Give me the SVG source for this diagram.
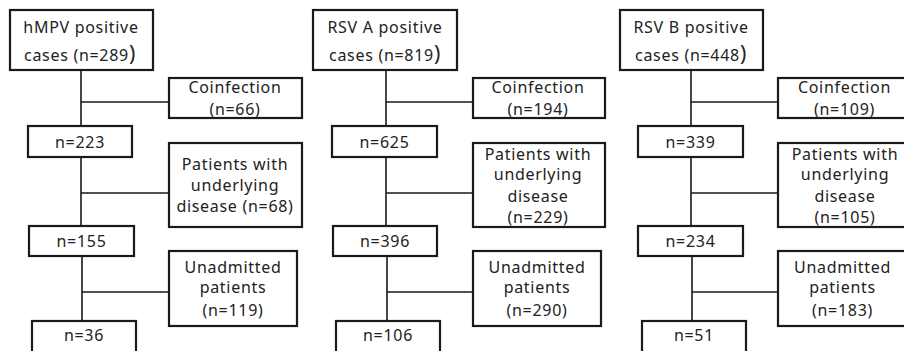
<svg xmlns="http://www.w3.org/2000/svg" width="904" height="351" viewBox="0 0 904 351">
<style>
.box{fill:#fff;stroke:#1a1a1a;stroke-width:2.2}
.ln{stroke:#1a1a1a;stroke-width:1.6;fill:none}
text{font-family:"Noto Sans","Liberation Sans",sans-serif;font-size:16px;letter-spacing:0.7px;fill:#222;text-anchor:middle}
.bp{font-size:21px}
</style>
<rect width="904" height="351" fill="#fff"/>
<g id="connectors">
<path class="ln" d="M81 70V126M81 157V226M82 256V321M81 102H169M81 193H169M82 292H169"/>
<path class="ln" d="M386 70V126M386 157V226M387 256V321M386 102H473M386 193H473M387 292H473"/>
<path class="ln" d="M691 70V126M691 157V226M692 256V321M691 102H778M691 193H778M692 292H778"/>
</g>
<g id="hmpv-top"><rect class="box" x="10" y="10" width="143" height="60"/><text x="81" y="33">hMPV positive</text><text x="80" y="61">cases (n=289<tspan class="bp">)</tspan></text></g>
<g id="hmpv-coinf"><rect class="box" x="169" y="78" width="133" height="40"/><text x="235" y="93">Coinfection</text><text x="235" y="115">(n=66)</text></g>
<g id="hmpv-n223"><rect class="box" x="28" y="126" width="104" height="31"/><text x="80" y="148">n=223</text></g>
<g id="hmpv-underlying"><rect class="box" x="169" y="143" width="133" height="84"/><text x="235" y="170">Patients with</text><text x="235" y="191">underlying</text><text x="235" y="212">disease (n=68)</text></g>
<g id="hmpv-n155"><rect class="box" x="29" y="226" width="105" height="30"/><text x="81.5" y="247">n=155</text></g>
<g id="hmpv-unadm"><rect class="box" x="169" y="251" width="128" height="75"/><text x="233" y="273">Unadmitted</text><text x="233" y="293">patients</text><text x="233" y="316">(n=119)</text></g>
<g id="hmpv-n36"><rect class="box" x="32" y="321" width="104" height="40"/><text x="84" y="341">n=36</text></g>

<g id="rsva-top"><rect class="box" x="313" y="10" width="144" height="60"/><text x="385" y="33">RSV A positive</text><text x="385" y="61">cases (n=819<tspan class="bp">)</tspan></text></g>
<g id="rsva-coinf"><rect class="box" x="473" y="78" width="132" height="40"/><text x="538" y="93">Coinfection</text><text x="538" y="115">(n=194)</text></g>
<g id="rsva-n625"><rect class="box" x="332" y="126" width="105" height="31"/><text x="384.5" y="148">n=625</text></g>
<g id="rsva-underlying"><rect class="box" x="473" y="143" width="132" height="84"/><text x="538" y="160">Patients with</text><text x="538" y="180">underlying</text><text x="538" y="202">disease</text><text x="538" y="223">(n=229)</text></g>
<g id="rsva-n396"><rect class="box" x="333" y="226" width="104" height="30"/><text x="385" y="247">n=396</text></g>
<g id="rsva-unadm"><rect class="box" x="473" y="251" width="128" height="75"/><text x="537" y="273">Unadmitted</text><text x="537" y="293">patients</text><text x="537" y="316">(n=290)</text></g>
<g id="rsva-n106"><rect class="box" x="336" y="321" width="104" height="40"/><text x="388" y="341">n=106</text></g>

<g id="rsvb-top"><rect class="box" x="620" y="10" width="143" height="60"/><text x="691" y="33">RSV B positive</text><text x="691" y="61">cases (n=448<tspan class="bp">)</tspan></text></g>
<g id="rsvb-coinf"><rect class="box" x="778" y="78" width="133" height="40"/><text x="844.5" y="93">Coinfection</text><text x="844.5" y="115">(n=109)</text></g>
<g id="rsvb-n339"><rect class="box" x="638" y="126" width="105" height="31"/><text x="690.5" y="148">n=339</text></g>
<g id="rsvb-underlying"><rect class="box" x="778" y="143" width="134" height="84"/><text x="845" y="160">Patients with</text><text x="845" y="180">underlying</text><text x="845" y="202">disease</text><text x="845" y="223">(n=105)</text></g>
<g id="rsvb-n234"><rect class="box" x="638" y="226" width="105" height="30"/><text x="690.5" y="247">n=234</text></g>
<g id="rsvb-unadm"><rect class="box" x="778" y="251" width="129" height="75"/><text x="842.5" y="273">Unadmitted</text><text x="842.5" y="293">patients</text><text x="842.5" y="316">(n=183)</text></g>
<g id="rsvb-n51"><rect class="box" x="642" y="321" width="104" height="40"/><text x="694" y="341">n=51</text></g>
</svg>
